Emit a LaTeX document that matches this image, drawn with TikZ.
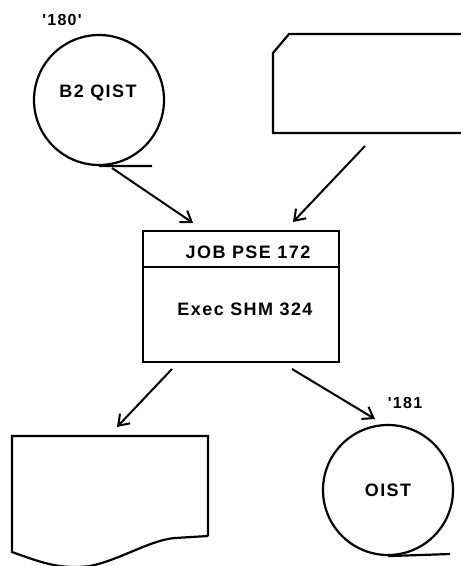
\documentclass[tikz,border=0pt]{standalone}
\usepackage{fontspec}
\setmainfont{Liberation Sans}
\newfontfamily\stencilfont[LetterSpace=8]{Liberation Sans}
\usetikzlibrary{arrows.meta}
\begin{document}
\begin{tikzpicture}[x=1pt,y=-1pt,line width=2.2pt,
  lbl/.style={font=\stencilfont\bfseries\fontsize{18}{18}\selectfont, inner sep=0pt},
  small/.style={font=\stencilfont\bfseries\fontsize{16}{16}\selectfont, inner sep=0pt},
  arr/.style={-{Straight Barb[length=10pt,width=14pt,line width=2pt]}, line width=2pt},
  tape/.style={circle, draw, minimum size=130pt, inner sep=0pt},
  jobbox/.style={rectangle, draw, minimum width=196pt, minimum height=131pt, inner sep=0pt}]
\useasboundingbox (0,0) rectangle (461,566);
\fill[white] (0,0) rectangle (461,566);

% top-left tape
\node[tape] (t1) at (99,100) {};
\node[lbl] (t1txt) at (98,93) {B2 QIST};
\node[small] (t1lab) at (62,20) {'180'};
\coordinate (t1tail) at (152,166);
\draw (t1.south) -- (t1tail);

% top-right card
\coordinate (cA) at (273,53);
\coordinate (cB) at (289,34);
\coordinate (cC) at (470,34);
\coordinate (cD) at (273,133);
\coordinate (cE) at (470,133);
\draw (cC) -- (cB) -- (cA) -- (cD) -- (cE);

% job box
\node[jobbox] (job) at (241,296.5) {};
\coordinate (divL) at (143,267);
\coordinate (divR) at (339,267);
\draw (divL) -- (divR);
\node[lbl] (jobtxt) at (248,252) {JOB PSE 172};
\node[lbl] (exectxt) at (245,309) {Exec SHM 324};

% bottom-left document
\coordinate (dA) at (12,436);
\coordinate (dB) at (208,436);
\coordinate (dC) at (208,536);
\coordinate (dD) at (12,552);
\draw (dC) -- (dB) -- (dA) -- (dD)
  .. controls (40,562) and (60,570) .. (90,566)
  .. controls (120,560) and (150,540) .. (175,538) -- (dC);

% bottom-right tape
\node[tape] (t2) at (388,490) {};
\node[lbl] (t2txt) at (388,490) {OIST};
\node[small] (t2lab) at (405,403) {'181};
\coordinate (t2tail) at (450,554);
\draw (t2.south) -- (t2tail);

% arrows
\coordinate (a1s) at (112,168);
\coordinate (a1e) at (193,223);
\coordinate (a2s) at (365,146);
\coordinate (a2e) at (293,222);
\coordinate (a3s) at (172,369);
\coordinate (a3e) at (117,427);
\coordinate (a4s) at (292,369);
\coordinate (a4e) at (375,419);
\draw[arr] (a1s) -- (a1e);
\draw[arr] (a2s) -- (a2e);
\draw[arr] (a3s) -- (a3e);
\draw[arr] (a4s) -- (a4e);
\end{tikzpicture}
\end{document}
